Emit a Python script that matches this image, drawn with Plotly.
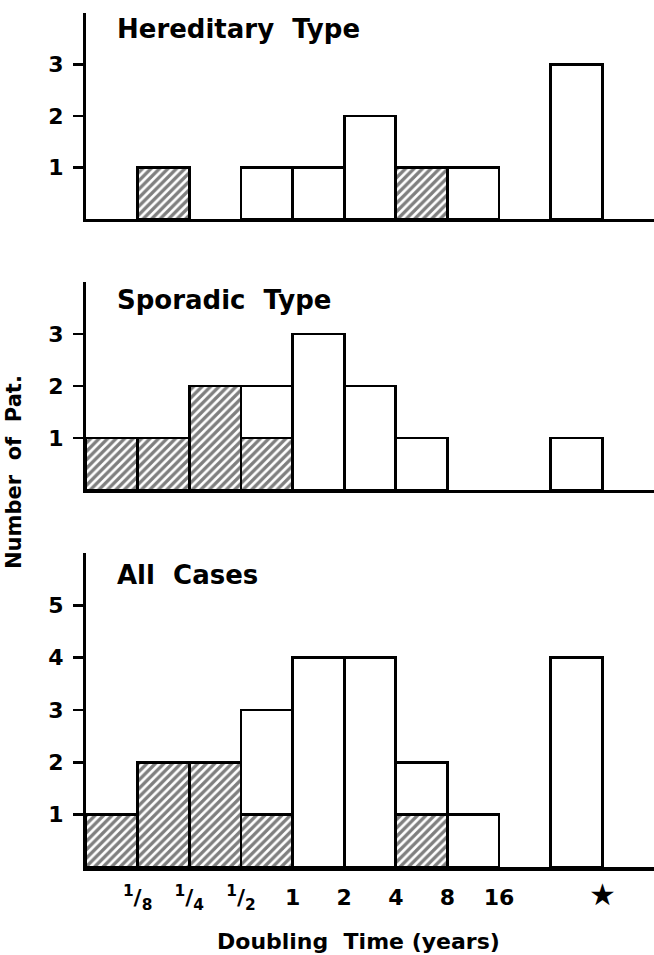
import plotly.graph_objects as go

# ---- data ----
bin_labels = ["<sup>1</sup>/<sub>8</sub>", "<sup>1</sup>/<sub>4</sub>", "<sup>1</sup>/<sub>2</sub>",
              "1", "2", "4", "8", "16"]   # labels at bin edges
star_label = "<span style='font-size:30px'>★</span>"
n_bins = 10

hered_hatched = [None, 1, None, None, None, None, 1, None, None, None]
hered_open    = [None, None, None, 1, 1, 2, None, 1, None, 3]
spor_hatched  = [1, 1, 2, 1, None, None, None, None, None, None]
spor_open     = [None, None, None, 1, 3, 2, 1, None, None, 1]
all_hatched   = [1, 2, 2, 1, None, None, 1, None, None, None]
all_open      = [None, None, None, 2, 4, 4, 1, 1, None, 4]

panel_titles = ["Hereditary\u00a0 Type", "Sporadic\u00a0 Type", "All\u00a0 Cases"]
y_ticks = [[1, 2, 3], [1, 2, 3], [1, 2, 3, 4, 5]]
y_max = [4.0, 4.0, 6.0]

FONT = "DejaVu Sans"
bins = list(range(n_bins))

fig = go.Figure()

panels = [
    (hered_hatched, hered_open),
    (spor_hatched, spor_open),
    (all_hatched, all_open),
]
axis_ids = ["", "2", "3"]

for (hatched, opened), aid in zip(panels, axis_ids):
    xa = "x" + aid
    ya = "y" + aid
    fig.add_trace(go.Bar(
        x=bins, y=hatched, width=1, xaxis=xa, yaxis=ya,
        marker=dict(color="white",
                    pattern=dict(shape="/", fgcolor="black", bgcolor="white",
                                 size=6, solidity=0.55),
                    line=dict(color="black", width=2.8)),
        showlegend=False, hoverinfo="skip"))
    fig.add_trace(go.Bar(
        x=bins, y=opened, width=1, xaxis=xa, yaxis=ya,
        marker=dict(color="white", line=dict(color="black", width=2.8)),
        showlegend=False, hoverinfo="skip"))

# layout geometry
domains = [[0.7588, 1.0], [0.4415, 0.685], [0.0, 0.3677]]

common_x = dict(range=[-0.5, n_bins + 0.5], showgrid=False, zeroline=False,
                showline=True, linecolor="black", linewidth=3.5, fixedrange=True)
common_y = dict(showgrid=False, zeroline=False, showline=True, linecolor="black",
                linewidth=3, ticks="outside", ticklen=10, tickwidth=2.5,
                tickcolor="black", ticklabelstandoff=5, fixedrange=True,
                tickfont=dict(family=FONT, size=22, color="black", weight="bold"))

layout = dict(
    width=654, height=955,
    margin=dict(l=86, r=0, t=13, b=88),
    paper_bgcolor="white", plot_bgcolor="white",
    barmode="stack", bargap=0,
)

tick_positions = [i + 0.5 for i in range(len(bin_labels))] + [n_bins - 0.5]
tick_texts = bin_labels + [star_label]

for i, aid in enumerate(axis_ids):
    xkey = "xaxis" + aid
    ykey = "yaxis" + aid
    xa = dict(common_x, domain=[0, 1], anchor="y" + aid)
    if aid == "3":
        xa.update(tickmode="array", tickvals=tick_positions, ticktext=tick_texts,
                  ticks="", ticklabelstandoff=8,
                  tickfont=dict(family=FONT, size=22, color="black", weight="bold"))
    else:
        xa.update(showticklabels=False, ticks="", matches="x3")
    layout[xkey] = xa
    layout[ykey] = dict(common_y, domain=domains[i], range=[0, y_max[i]],
                        tickmode="array", tickvals=y_ticks[i],
                        anchor="x" + aid)

fig.update_layout(**layout)

title_shift = [-16, -18, -22]
for i, aid in enumerate(axis_ids):
    fig.add_annotation(text=panel_titles[i], xref="x domain", yref="y" + aid + " domain",
                       x=0.051, y=1, xanchor="left", yanchor="middle",
                       yshift=title_shift[i], showarrow=False,
                       font=dict(family=FONT, size=26, color="black", weight="bold"))

fig.add_annotation(text="Number\u00a0 of\u00a0 Pat.", xref="paper", yref="paper",
                   x=(14 - 86) / 568, y=(867 - 472) / 854, textangle=-90, showarrow=False,
                   xanchor="center", yanchor="middle",
                   font=dict(family=FONT, size=21, color="black", weight="bold"))
fig.add_annotation(text="Doubling\u00a0 Time\u00a0(years)", xref="paper", yref="paper",
                   x=(358 - 86) / 568, y=(867 - 941) / 854, showarrow=False,
                   xanchor="center", yanchor="middle",
                   font=dict(family=FONT, size=22, color="black", weight="bold"))

fig.write_html("out.html", config={"displayModeBar": False, "staticPlot": True},
               post_script="document.body.style.margin='0';document.body.style.overflow='hidden';")
